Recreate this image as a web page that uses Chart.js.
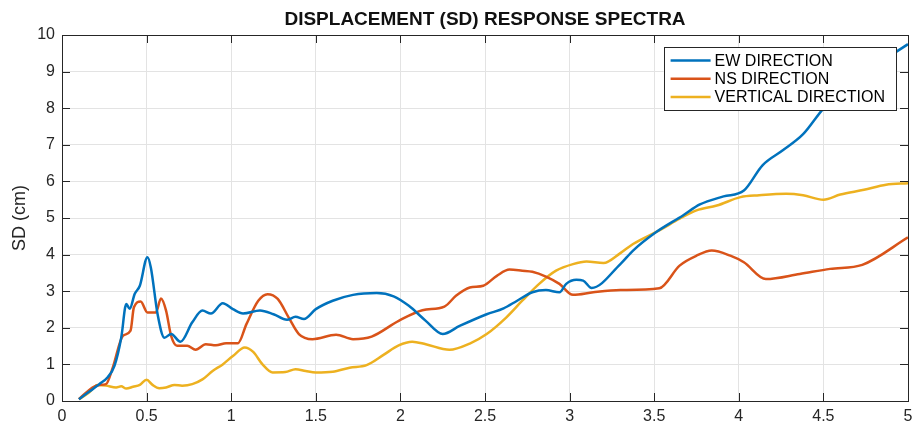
<!DOCTYPE html>
<html>
<head>
<meta charset="utf-8">
<script src="https://cdn.jsdelivr.net/npm/chart.js@4.4.1/dist/chart.umd.min.js"></script>
<style>
  html, body { margin: 0; padding: 0; background: #ffffff; }
  #wrap { position: relative; width: 917px; height: 429px; }
</style>
</head>
<body>
<div id="wrap"><canvas id="c" width="917" height="429"></canvas></div>
<script>
// ---- data ----
const chartTitle = 'DISPLACEMENT (SD) RESPONSE SPECTRA';
const yAxisTitle = 'SD (cm)';
const seriesNames = ['EW DIRECTION', 'NS DIRECTION', 'VERTICAL DIRECTION'];
const seriesColors = ['#0072BD', '#D95319', '#EDB120'];

const xTickValues = [0, 0.5, 1, 1.5, 2, 2.5, 3, 3.5, 4, 4.5, 5];
const xTickLabels = ['0', '0.5', '1', '1.5', '2', '2.5', '3', '3.5', '4', '4.5', '5'];
const yTickValues = [0, 1, 2, 3, 4, 5, 6, 7, 8, 9, 10];
const yTickLabels = ['0', '1', '2', '3', '4', '5', '6', '7', '8', '9', '10'];

const ewPeriod = [0.10,0.16,0.22,0.27,0.31,0.35,0.38,0.40,0.43,0.46,0.505,0.525,0.565,0.605,0.645,0.70,0.77,0.83,0.88,0.95,1.01,1.07,1.17,1.25,1.33,1.38,1.43,1.50,1.60,1.72,1.86,1.96,2.05,2.15,2.25,2.35,2.51,2.61,2.69,2.78,2.86,2.94,2.98,3.04,3.08,3.13,3.30,3.375,3.51,3.67,3.77,3.91,4.03,4.14,4.26,4.38,4.50,4.70,4.90,5.00];
const ewSD     = [0.05,0.25,0.46,0.65,0.96,1.73,2.65,2.52,2.93,3.15,3.93,3.65,2.37,1.73,1.83,1.62,2.15,2.47,2.39,2.67,2.51,2.39,2.47,2.37,2.22,2.30,2.24,2.51,2.74,2.90,2.95,2.86,2.60,2.19,1.83,2.05,2.37,2.53,2.74,2.97,3.03,2.97,3.20,3.31,3.29,3.09,3.74,4.11,4.61,5.07,5.37,5.59,5.75,6.44,6.85,7.29,7.99,8.85,9.45,9.75];

const nsPeriod = [0.10,0.18,0.22,0.26,0.30,0.36,0.405,0.425,0.465,0.505,0.555,0.585,0.615,0.645,0.68,0.74,0.79,0.85,0.91,0.97,1.04,1.09,1.16,1.215,1.275,1.34,1.40,1.48,1.62,1.72,1.83,1.99,2.13,2.26,2.33,2.41,2.49,2.57,2.645,2.72,2.78,2.86,2.94,3.02,3.14,3.30,3.53,3.65,3.75,3.84,3.95,4.03,4.16,4.36,4.54,4.73,5.00];
const nsSD     = [0.05,0.37,0.44,0.46,0.91,1.78,1.92,2.56,2.72,2.42,2.42,2.80,2.47,1.78,1.51,1.51,1.40,1.55,1.52,1.58,1.58,2.10,2.74,2.92,2.79,2.28,1.83,1.69,1.81,1.69,1.76,2.19,2.48,2.58,2.88,3.10,3.15,3.42,3.59,3.56,3.53,3.40,3.20,2.90,2.97,3.03,3.08,3.70,3.97,4.11,3.97,3.79,3.33,3.47,3.61,3.72,4.47];

const vtPeriod = [0.10,0.16,0.21,0.26,0.32,0.35,0.38,0.42,0.46,0.50,0.535,0.575,0.615,0.665,0.71,0.77,0.83,0.89,0.95,1.01,1.08,1.13,1.185,1.245,1.32,1.38,1.44,1.50,1.60,1.70,1.80,1.90,1.99,2.07,2.15,2.29,2.41,2.51,2.625,2.72,2.82,2.92,3.02,3.10,3.20,3.30,3.375,3.53,3.65,3.75,3.87,4.01,4.12,4.28,4.38,4.50,4.60,4.74,4.87,5.00];
const vtSD     = [0.05,0.23,0.44,0.42,0.37,0.40,0.34,0.39,0.44,0.58,0.44,0.35,0.37,0.44,0.42,0.46,0.59,0.82,1.00,1.23,1.46,1.34,1.00,0.78,0.79,0.87,0.82,0.78,0.80,0.91,0.98,1.26,1.52,1.62,1.55,1.40,1.57,1.83,2.28,2.74,3.20,3.56,3.74,3.81,3.77,4.04,4.29,4.66,4.98,5.21,5.34,5.57,5.62,5.66,5.62,5.50,5.64,5.77,5.91,5.95];

// ---- build ----
const FONT = "'Liberation Sans', Arial, Helvetica, sans-serif";
const TEXT = '#262626';
const pairs = (xs, ys) => xs.map((x, i) => ({ x: x, y: ys[i] }));
const seriesData = [pairs(ewPeriod, ewSD), pairs(nsPeriod, nsSD), pairs(vtPeriod, vtSD)];
const labelFor = (vals, labs) => v => { const i = vals.indexOf(v); return i >= 0 ? labs[i] : ''; };

const frame = {
  id: 'matlabFrame',
  afterDraw(chart) {
    const { ctx, chartArea: a, scales } = chart;
    const xs = scales.x, ys = scales.y;
    ctx.save();
    // inward ticks
    ctx.strokeStyle = TEXT;
    ctx.lineWidth = 1;
    const tl = 8;
    ctx.beginPath();
    xTickValues.forEach(v => {
      const px = Math.round(xs.getPixelForValue(v)) + 0.5;
      ctx.moveTo(px, a.bottom); ctx.lineTo(px, a.bottom - tl);
      ctx.moveTo(px, a.top); ctx.lineTo(px, a.top + tl);
    });
    yTickValues.forEach(v => {
      const py = Math.round(ys.getPixelForValue(v)) + 0.5;
      ctx.moveTo(a.left, py); ctx.lineTo(a.left + tl, py);
      ctx.moveTo(a.right, py); ctx.lineTo(a.right - tl, py);
    });
    ctx.stroke();
    // box
    ctx.strokeRect(Math.round(a.left) + 0.5, Math.round(a.top) + 0.5,
                   Math.round(a.right - a.left), Math.round(a.bottom - a.top));
    // title
    ctx.fillStyle = '#111111';
    ctx.font = "bold 19px " + FONT;
    ctx.textAlign = 'center';
    ctx.textBaseline = 'middle';
    ctx.fillText(chartTitle, (a.left + a.right) / 2, 20);
    // legend box inside plot area
    ctx.font = "16px " + FONT;
    const rowH = 18.3, lineLen = 40, padL = 7, gap = 4, padR = 11, padV = 13.4;
    let maxW = 0;
    seriesNames.forEach(n => { maxW = Math.max(maxW, ctx.measureText(n).width); });
    const bw = padL + lineLen + gap + maxW + padR;
    const bh = padV * 2 + rowH * (seriesNames.length - 1);
    const bx = a.right - 12 - bw;
    const by = a.top + 12;
    ctx.fillStyle = '#ffffff';
    ctx.fillRect(bx, by, bw, bh);
    ctx.strokeStyle = '#262626';
    ctx.lineWidth = 1;
    ctx.strokeRect(Math.round(bx) + 0.5, Math.round(by) + 0.5, Math.round(bw), Math.round(bh));
    ctx.textAlign = 'left';
    seriesNames.forEach((n, i) => {
      const cy = by + padV + rowH * i;
      ctx.strokeStyle = seriesColors[i];
      ctx.lineWidth = 2.5;
      ctx.beginPath();
      ctx.moveTo(bx + padL, cy); ctx.lineTo(bx + padL + lineLen, cy);
      ctx.stroke();
      ctx.fillStyle = '#000000';
      ctx.fillText(n, bx + padL + lineLen + gap, cy + 1);
    });
    ctx.restore();
  }
};

new Chart(document.getElementById('c'), {
  type: 'line',
  data: {
    datasets: seriesData.map((d, i) => ({
      label: seriesNames[i],
      data: d,
      borderColor: seriesColors[i],
      backgroundColor: seriesColors[i],
      borderWidth: 2.5,
      pointRadius: 0,
      fill: false,
      cubicInterpolationMode: 'monotone'
    }))
  },
  options: {
    responsive: false,
    animation: false,
    events: [],
    layout: { padding: { top: 35, right: 9, left: 0, bottom: 0 } },
    plugins: { legend: { display: false }, title: { display: false }, tooltip: { enabled: false } },
    scales: {
      x: {
        type: 'linear',
        min: 0, max: 5,
        afterBuildTicks: s => { s.ticks = xTickValues.map(v => ({ value: v })); },
        afterFit: s => { s.height = 28; s.paddingLeft = 0; s.paddingRight = 0; },
        grid: { color: '#e3e3e3', lineWidth: 1, drawTicks: false },
        border: { display: false },
        ticks: { color: TEXT, font: { family: FONT, size: 16 }, padding: 6, maxRotation: 0, autoSkip: false,
                 callback: labelFor(xTickValues, xTickLabels) }
      },
      y: {
        type: 'linear',
        min: 0, max: 10,
        afterBuildTicks: s => { s.ticks = yTickValues.map(v => ({ value: v })); },
        afterFit: s => { s.width = 62; s.paddingTop = 0; s.paddingBottom = 0; },
        grid: { color: '#e3e3e3', lineWidth: 1, drawTicks: false },
        border: { display: false },
        ticks: { color: TEXT, font: { family: FONT, size: 16 }, padding: 7, autoSkip: false,
                 callback: labelFor(yTickValues, yTickLabels) },
        title: { display: true, text: yAxisTitle, color: TEXT, font: { family: FONT, size: 18 }, padding: { top: 9, bottom: 0 } }
      }
    }
  },
  plugins: [frame]
});
</script>
</body>
</html>
